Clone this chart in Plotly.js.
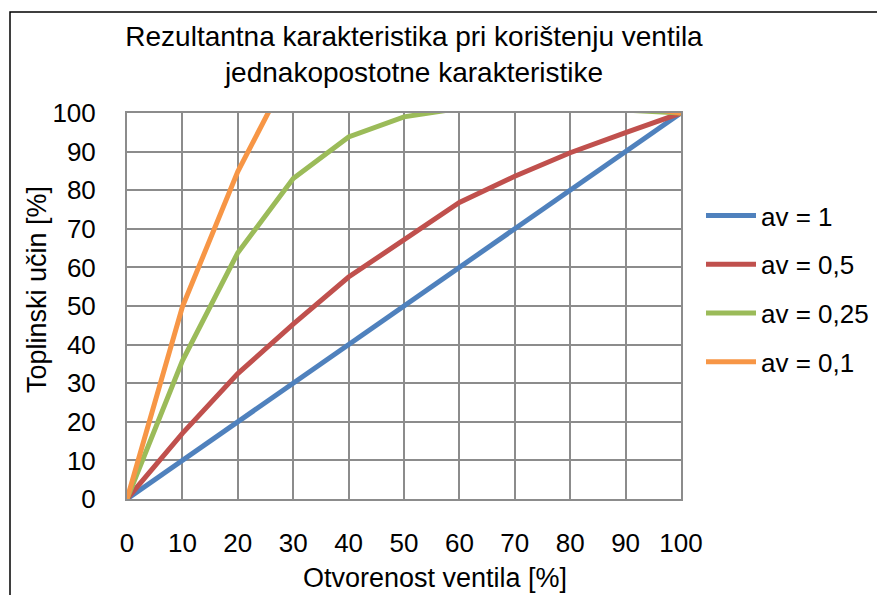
<!DOCTYPE html>
<html>
<head>
<meta charset="utf-8">
<script src="https://cdn.plot.ly/plotly-3.0.1.min.js"></script>
<style>html,body{margin:0;padding:0;background:#fff;}#chart{width:877px;height:595px;}</style>
</head>
<body>
<div id="chart"></div>
<script>
// Data
const opening = [0, 10, 20, 30, 40, 50, 60, 70, 80, 90, 100];
const av1   = [0, 10, 20, 30, 40, 50, 60, 70, 80, 90, 100];
const av05  = [0, 17, 32.5, 45.3, 57.5, 67.3, 76.8, 83.6, 89.7, 94.9, 100];
const av025 = [0, 35.8, 63.8, 83, 93.8, 99, 101.2, 101.6, 101.5, 100.9, 100];
const av01  = [0, 49.8, 84.8, 112.6, 114, 113.5, 112, 110, 107, 102, 100];
const seriesNames = ['av = 1', 'av = 0,5', 'av = 0,25', 'av = 0,1'];
const seriesColors = ['#4F81BD', '#C0504D', '#9BBB59', '#F79646'];
const tickVals = [0, 10, 20, 30, 40, 50, 60, 70, 80, 90, 100];
const titleText = 'Rezultantna karakteristika pri korištenju ventila<br>jednakopostotne karakteristike';
const xTitle = 'Otvorenost ventila [%]';
const yTitle = 'Toplinski učin [%]';

const FONT = 'Liberation Sans, Arial, sans-serif';
const allSeries = [av1, av05, av025, av01];
const traces = allSeries.map((ys, i) => ({
  x: opening, y: ys, type: 'scatter', mode: 'lines',
  name: seriesNames[i], legendgroup: 'g' + i,
  line: {color: seriesColors[i], width: 5}
}));

const L = 127, R = 681, T = 113, B = 499, W = 877, H = 595;
const px = v => (v - L) / (R - L);
const py = v => (B - v) / (B - T);

const axisCommon = {
  range: [0, 100], tickvals: tickVals, showgrid: true, gridcolor: '#8c8c8c', gridwidth: 2,
  zeroline: false, showline: true, linecolor: '#8c8c8c', linewidth: 2, mirror: true,
  ticks: '', tickfont: {family: FONT, size: 26, color: '#000'}, fixedrange: true
};

const layout = {
  width: W, height: H,
  margin: {l: L, r: W - R, t: T, b: H - B, pad: 0, autoexpand: false},
  paper_bgcolor: '#fff', plot_bgcolor: '#fff',
  font: {family: FONT, color: '#000'},
  title: {text: titleText, font: {family: FONT, size: 28, color: '#000'},
          x: 414 / W, xanchor: 'center', y: 1 - 46 / H, yanchor: 'top', xref: 'container', yref: 'container'},
  xaxis: Object.assign({}, axisCommon, {ticklabelstandoff: 20}),
  yaxis: Object.assign({}, axisCommon, {ticklabelstandoff: 24}),
  showlegend: true,
  legend: {x: px(701), xanchor: 'left', y: py(192), yanchor: 'top',
           font: {family: FONT, size: 26, color: '#000'}, tracegroupgap: 12,
           bgcolor: 'rgba(0,0,0,0)', itemwidth: 50},
  annotations: [
    {text: xTitle, xref: 'paper', yref: 'paper', x: px(435), y: py(578), xanchor: 'center', yanchor: 'middle',
     showarrow: false, font: {family: FONT, size: 27, color: '#000'}},
    {text: yTitle, xref: 'paper', yref: 'paper', x: px(37), y: py(290), xanchor: 'center', yanchor: 'middle',
     textangle: -90, showarrow: false, font: {family: FONT, size: 27, color: '#000'}}
  ],
  shapes: [
    {type: 'rect', xref: 'paper', yref: 'paper', x0: px(10), x1: px(900), y0: py(620), y1: py(12),
     line: {color: '#000', width: 1.5}, fillcolor: 'rgba(0,0,0,0)', layer: 'below'}
  ]
};

Plotly.newPlot('chart', traces, layout, {displayModeBar: false, staticPlot: true});
</script>
</body>
</html>
